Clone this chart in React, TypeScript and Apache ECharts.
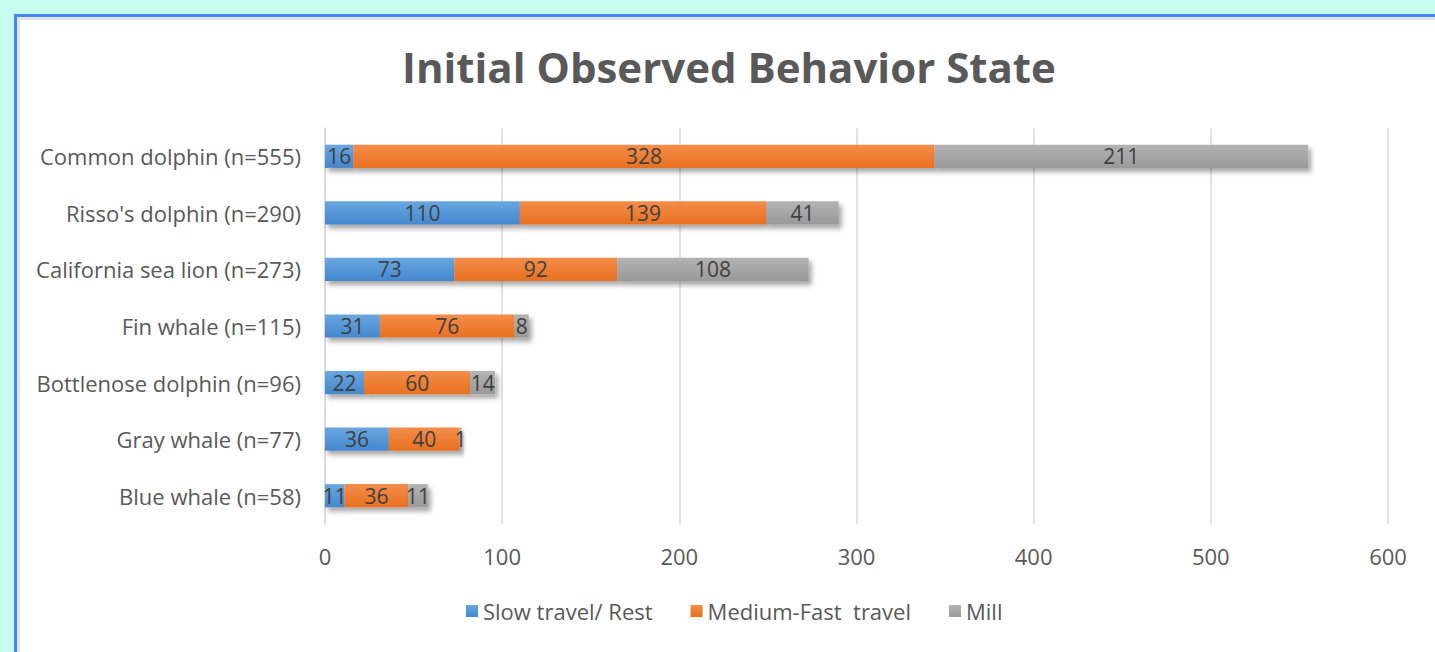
import React, { useEffect, useRef } from "react";
import * as echarts from "echarts";

const categories = [
  "Common dolphin (n=555)",
  "Risso's dolphin (n=290)",
  "California sea lion (n=273)",
  "Fin whale (n=115)",
  "Bottlenose dolphin (n=96)",
  "Gray whale (n=77)",
  "Blue whale (n=58)",
];
const slowTravel = [16, 110, 73, 31, 22, 36, 11];
const mediumFast = [328, 139, 92, 76, 60, 40, 36];
const mill = [211, 41, 108, 8, 14, 1, 11];
const seriesNames = ["Slow travel/ Rest", "Medium-Fast  travel", "Mill"];
const xTicks = [0, 100, 200, 300, 400, 500, 600];

const FONT = "'Open Sans', sans-serif";

function grad(top: string, bottom: string) {
  return new echarts.graphic.LinearGradient(0, 0, 0, 1, [
    { offset: 0, color: top },
    { offset: 1, color: bottom },
  ]);
}

export default function App() {
  const ref = useRef<HTMLDivElement>(null);
  useEffect(() => {
    document.body.style.margin = "0";
    const chart = echarts.init(ref.current!, undefined, { renderer: "svg" });
    const mk = (name: string, data: number[], top: string, bottom: string) => ({
      name,
      type: "bar",
      stack: "total",
      data,
      barWidth: "41%",
      itemStyle: {
        color: grad(top, bottom),
        shadowBlur: 5,
        shadowOffsetX: 3,
        shadowOffsetY: 4,
        shadowColor: "rgba(0,0,0,0.35)",
      },
      label: {
        show: true,
        position: "inside",
        color: "#404040",
        fontFamily: FONT,
        fontSize: 21,
      },
    });
    chart.setOption({
      animation: false,
      backgroundColor: "transparent",
      title: {
        text: "Initial Observed Behavior State",
        left: 397,
        top: 40,
        textStyle: {
          fontFamily: FONT,
          fontWeight: "bold",
          fontSize: 42,
          color: "#595959",
        },
      },
      legend: {
        top: 595,
        left: 461,
        itemWidth: 12,
        itemHeight: 12,
        itemGap: 38,
        icon: "rect",
        textStyle: { fontFamily: FONT, fontSize: 22, color: "#595959" },
        data: seriesNames,
      },
      grid: { left: 325, right: 47, top: 128, bottom: 128, containLabel: false },
      xAxis: {
        type: "value",
        min: xTicks[0],
        max: xTicks[xTicks.length - 1],
        interval: 100,
        axisLine: { show: false },
        axisTick: { show: false },
        splitLine: { lineStyle: { color: "#d9d9d9", width: 1.5 } },
        axisLabel: { fontFamily: FONT, fontSize: 22, color: "#595959", margin: 21 },
      },
      yAxis: {
        type: "category",
        inverse: true,
        data: categories,
        axisLine: { show: true, lineStyle: { color: "#d9d9d9", width: 1.5 } },
        axisTick: { show: false },
        axisLabel: { fontFamily: FONT, fontSize: 22, color: "#595959", margin: 24 },
      },
      series: [
        mk(seriesNames[0], slowTravel, "#6aa7e0", "#4487cf"),
        mk(seriesNames[1], mediumFast, "#f48d4a", "#e8701f"),
        mk(seriesNames[2], mill, "#b3b3b3", "#999999"),
      ],
    });
    return () => chart.dispose();
  }, []);
  return (
    <div style={{ position: "fixed", left: 0, top: 0, width: 1435, height: 652, background: "#c7fdef", overflow: "hidden" }}>
      <div style={{ position: "absolute", left: 14, top: 14, right: -10, bottom: -10, borderLeft: "3px solid #4a84f8", borderTop: "3px solid #4a84f8" }}>
        <div style={{ width: "100%", height: "100%", background: "#fff", borderLeft: "3px solid #e2e2e2", borderTop: "3px solid #e2e2e2", boxSizing: "border-box" }} />
      </div>
      <div ref={ref} style={{ position: "absolute", left: 0, top: 0, width: 1435, height: 652 }} />
    </div>
  );
}
